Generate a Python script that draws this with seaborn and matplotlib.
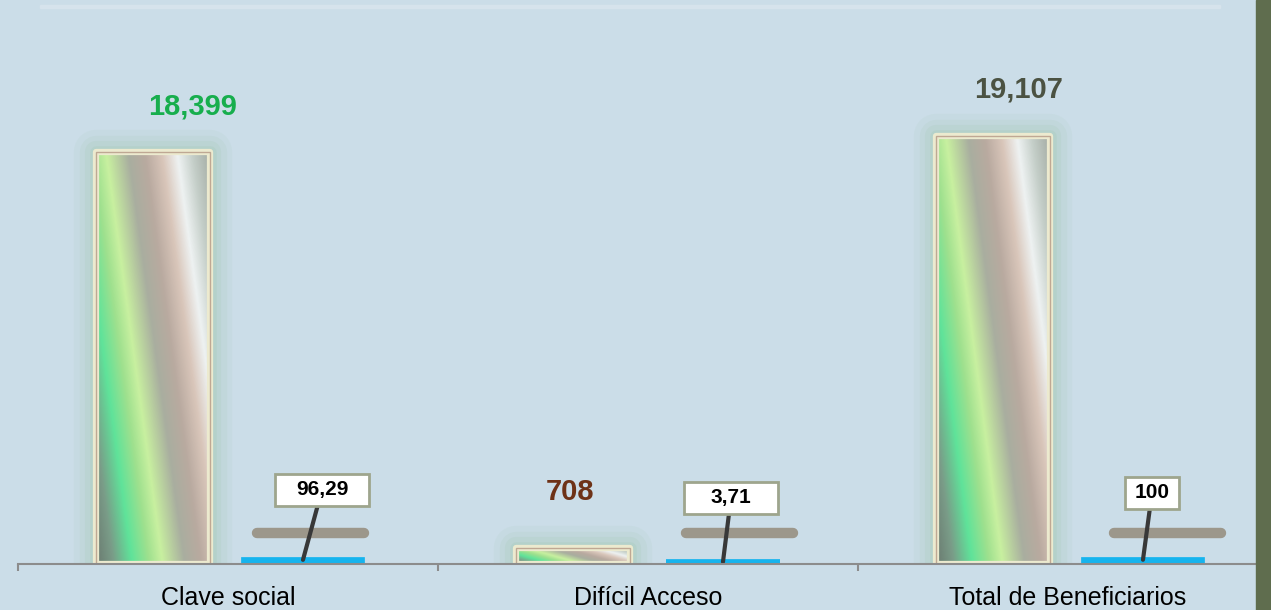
import numpy as np
import pandas as pd
import matplotlib.pyplot as plt
import seaborn as sns
from matplotlib.colors import LinearSegmentedColormap
from matplotlib.patches import Rectangle

# Datos del grafico
categorias = ['Clave social', 'Difícil Acceso', 'Total de Beneficiarios']
beneficiarios = [18399, 708, 19107]
porcentajes = [96.29, 3.71, 100]
etiquetas_benef = ['18,399', '708', '19,107']
etiquetas_pct = ['96,29', '3,71', '100']
colores_benef = ['#17ae4d', '#6e3217', '#4b5242']

df = pd.DataFrame({
    'categoria': categorias * 2,
    'serie': ['Beneficiarios'] * 3 + ['Porcentaje'] * 3,
    'valor': beneficiarios + porcentajes,
})

fondo = '#cbdde8'
sns.set_theme(style='white')
plt.rcParams['font.family'] = ['Liberation Sans', 'DejaVu Sans']

fig = plt.figure(figsize=(12.71, 6.10), dpi=100)
fig.patch.set_facecolor(fondo)
ax = fig.add_axes([18 / 1271, 46 / 610, 1260 / 1271, 564 / 610])
ax.set_facecolor('none')

sns.barplot(data=df, x='categoria', y='valor', hue='serie', order=categorias,
            hue_order=['Beneficiarios', 'Porcentaje'], width=0.714, gap=0.24,
            palette=['#a0d8a0', '#18b8f0'], saturation=1, legend=False, ax=ax)

ymax = 25180
ax.set_xlim(-0.5, 2.5)
ax.set_ylim(0, ymax)
px = ymax / 564  # unidades de datos por pixel

# degradado diagonal de las barras grandes
cmap = LinearSegmentedColormap.from_list('brillo', [
    (0.00, '#6a7a70'), (0.10, '#7a9c88'), (0.21, '#5fe39a'), (0.31, '#9ee08e'),
    (0.39, '#c8f0a0'), (0.52, '#a9ae9f'), (0.62, '#b9aaa0'), (0.72, '#d9c6ba'),
    (0.81, '#eef2f2'), (0.90, '#c4cec8'), (1.00, '#a4aca4')])
xx, yy = np.meshgrid(np.linspace(0, 1, 120), np.linspace(1, 0, 300))
t = (xx - 0.5 * (1 - yy) + 0.5) / 1.5
img = cmap(t)

for bar in ax.containers[0]:
    x0, w, h = bar.get_x(), bar.get_width(), bar.get_height()
    for lw, a in [(32, 0.07), (24, 0.09), (16, 0.11), (9, 0.14)]:
        ax.add_patch(Rectangle((x0, 0), w, h, fill=False, ec='#8fbf98', lw=lw,
                               alpha=a, joinstyle='round', zorder=1))
    im = ax.imshow(img, extent=[x0, x0 + w, 0, h], aspect='auto',
                   interpolation='bilinear', zorder=2)
    im.set_clip_path(bar)
    bar.set_facecolor('none')
    ax.add_patch(Rectangle((x0, 0), w, h, fill=False, ec='#eceacf', lw=4.5,
                           joinstyle='round', zorder=3))
    ax.add_patch(Rectangle((x0, 0), w, h, fill=False, ec='#bfa894', lw=1, zorder=3.1))

for i, bar in enumerate(ax.containers[1]):
    bar.set_edgecolor('#16b4ee')
    bar.set_linewidth(7)
    bar.set_zorder(3)
    x0, w = bar.get_x(), bar.get_width()
    despl = 0.015 + 0.02 * i
    ax.plot([x0 + despl + 0.012, x0 + w + despl - 0.005], [31 * px, 31 * px],
            lw=7.5, color='#9c978b', solid_capstyle='round', zorder=2)
ax.set_xlim(-0.5, 2.5)
ax.set_ylim(0, ymax)

# etiquetas de beneficiarios
desp_benef = [(40, 45), (-3, 56), (26, 47)]
for bar, txt, col, (dx, dy) in zip(ax.containers[0], etiquetas_benef, colores_benef, desp_benef):
    ax.annotate(txt, xy=(bar.get_x() + bar.get_width() / 2, bar.get_height()),
                xytext=(dx, dy), textcoords='offset pixels', ha='center', va='center',
                fontsize=21, fontweight='bold', color=col, zorder=6)

# etiquetas de porcentaje con linea guia
desp_pct = [(19, 70), (8, 64), (9, 67)]
relleno_pct = [1.0, 1.27, 0.46]
for bar, txt, (dx, dy), pad in zip(ax.containers[1], etiquetas_pct, desp_pct, relleno_pct):
    ax.annotate(txt, xy=(bar.get_x() + bar.get_width() / 2, bar.get_height() + 2 * px),
                xytext=(dx, dy), textcoords='offset pixels', ha='center', va='center',
                fontsize=15, fontweight='bold', color='black', zorder=6,
                bbox=dict(boxstyle=f'square,pad={pad}', mutation_aspect=0.3 / pad,
                          fc='white', ec='#9ea58d', lw=2),
                arrowprops=dict(arrowstyle='-', color='#383838', lw=3,
                                shrinkA=0, shrinkB=0))

for s in ['top', 'right', 'left']:
    ax.spines[s].set_visible(False)
ax.spines['bottom'].set_color('#8c8c8c')
ax.spines['bottom'].set_linewidth(1.5)
ax.spines['bottom'].set_zorder(7)
ax.set_yticks([])
ax.set_xlabel('')
ax.set_ylabel('')
ax.set_xticks([0, 1, 2])
ax.set_xticklabels(categorias, fontsize=18, color='black')
ax.tick_params(axis='x', which='major', length=0, pad=15.5)
ax.set_xticks([-0.5, 0.5, 1.5, 2.5], minor=True)
ax.tick_params(axis='x', which='minor', length=5, width=1.5, color='#8c8c8c',
               direction='out', bottom=True)

# franjas decorativas
fig.add_artist(Rectangle((40 / 1271, 1 - 8 / 610), 1180 / 1271, 3 / 610,
                         transform=fig.transFigure, color='#d6e3ec', zorder=0))
fig.add_artist(Rectangle((1256 / 1271, 0), 15 / 1271, 1, transform=fig.transFigure,
                         color='#5f6d4e', zorder=10))

fig.savefig('out.png', dpi=100, facecolor=fondo)
